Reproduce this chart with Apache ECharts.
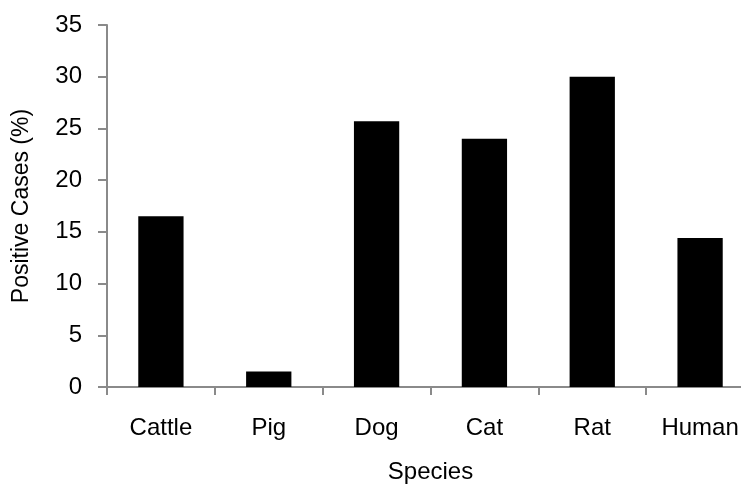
<!DOCTYPE html>
<html>
<head>
<meta charset="utf-8">
<script src="https://cdn.jsdelivr.net/npm/echarts@6/dist/echarts.min.js"></script>
<style>
html,body{margin:0;padding:0;background:#fff;overflow:hidden;}
#chart{width:741px;height:488px;}
</style>
</head>
<body>
<div id="chart"></div>
<script>
var categories = ['Cattle', 'Pig', 'Dog', 'Cat', 'Rat', 'Human'];
var positiveCases = [16.5, 1.5, 25.7, 24.0, 30.0, 14.4];
var yTicks = { min: 0, max: 35, interval: 5 };
var xTitle = 'Species';
var yTitle = 'Positive Cases (%)';

var font = '"Liberation Sans", Arial, sans-serif';
var chart = echarts.init(document.getElementById('chart'), null, { renderer: 'canvas' });
chart.setOption({
  animation: false,
  backgroundColor: '#ffffff',
  grid: { left: 107, top: 25, width: 647, bottom: 101, containLabel: false, outerBoundsMode: 'none' },
  xAxis: {
    type: 'category',
    data: categories,
    name: xTitle,
    nameLocation: 'middle',
    nameGap: 73,
    nameTextStyle: { fontFamily: font, fontSize: 24, color: '#000' },
    axisLine: { lineStyle: { color: '#8a8a8a', width: 2 } },
    axisTick: { show: true, inside: false, length: 8, alignWithLabel: false, lineStyle: { color: '#8a8a8a', width: 2 } },
    axisLabel: { fontFamily: font, fontSize: 24, color: '#000', margin: 29, interval: 0 },
    splitLine: { show: false }
  },
  yAxis: {
    type: 'value',
    min: yTicks.min,
    max: yTicks.max,
    interval: yTicks.interval,
    name: yTitle,
    nameLocation: 'middle',
    nameGap: 74,
    nameRotate: 90,
    nameTextStyle: { fontFamily: font, fontSize: 23, color: '#000' },
    axisLine: { show: true, lineStyle: { color: '#8a8a8a', width: 2 } },
    axisTick: { show: true, inside: false, length: 9, lineStyle: { color: '#8a8a8a', width: 2 } },
    axisLabel: { fontFamily: font, fontSize: 24, color: '#000', margin: 25 },
    splitLine: { show: false }
  },
  series: [{
    type: 'bar',
    data: positiveCases,
    barCategoryGap: '58%',
    itemStyle: { color: '#000000' }
  }]
});
</script>
</body>
</html>
